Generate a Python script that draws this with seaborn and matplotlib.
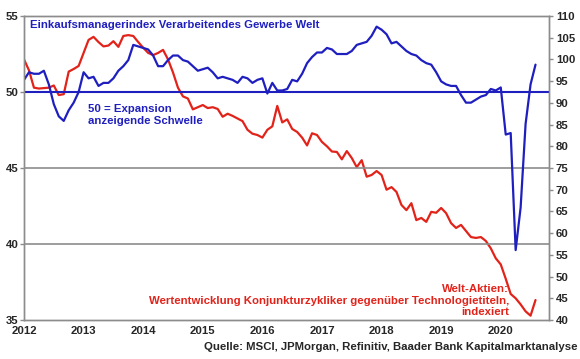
import numpy as np
import pandas as pd
import matplotlib.pyplot as plt
import seaborn as sns

# monthly, Jan 2012 - Aug 2020
pmi = [50.8, 51.3, 51.2, 51.2, 51.4, 50.5, 49.2, 48.4, 48.1, 48.8, 49.3, 50.0,
       51.3, 50.9, 51.0, 50.4, 50.6, 50.6, 50.9, 51.4, 51.7, 52.1, 53.1, 53.0,
       52.9, 52.8, 52.4, 51.7, 51.7, 52.1, 52.4, 52.4, 52.1, 52.0, 51.7, 51.4,
       51.5, 51.6, 51.3, 50.9, 51.0, 50.9, 50.8, 50.6, 51.0, 50.9, 50.6, 50.8,
       50.9, 49.9, 50.6, 50.1, 50.1, 50.2, 50.8, 50.7, 51.2, 51.9, 52.3, 52.6,
       52.6, 52.9, 52.8, 52.5, 52.5, 52.5, 52.7, 53.1, 53.2, 53.3, 53.7, 54.3,
       54.1, 53.8, 53.2, 53.3, 53.0, 52.7, 52.5, 52.4, 52.1, 51.9, 51.8, 51.3,
       50.7, 50.5, 50.4, 50.4, 49.8, 49.3, 49.3, 49.5, 49.7, 49.8, 50.2, 50.1,
       50.3, 47.2, 47.3, 39.6, 42.4, 47.9, 50.5, 51.8]

stocks = [100.0, 97.5, 93.5, 93.3, 93.4, 93.5, 94.0, 91.8, 92.0, 97.2, 97.8, 98.5,
          101.5, 104.5, 105.2, 104.0, 103.0, 103.2, 104.2, 102.9, 105.4, 105.6, 105.4, 104.0,
          102.7, 101.5, 101.0, 101.5, 102.2, 100.0, 97.0, 93.5, 91.5, 91.0, 88.5, 89.0,
          89.5, 88.8, 89.0, 88.6, 86.8, 87.5, 87.0, 86.4, 85.8, 83.8, 82.9, 82.6,
          82.0, 83.8, 84.6, 89.3, 85.5, 86.2, 84.0, 83.3, 82.0, 80.2, 83.0, 82.6,
          81.0, 80.0, 78.8, 78.7, 77.0, 78.9, 77.3, 75.2, 76.8, 73.0, 73.4, 74.3,
          73.4, 70.0, 70.6, 69.5, 66.5, 65.3, 66.9, 63.0, 63.5, 62.6, 64.9, 64.7,
          65.8, 64.6, 62.3, 61.2, 61.9, 60.5, 59.1, 58.9, 59.1, 58.2, 56.5, 54.2,
          52.8, 49.5, 46.0, 45.0, 43.6, 42.0, 41.0, 44.6]

years = [2012, 2013, 2014, 2015, 2016, 2017, 2018, 2019, 2020]
year_labels = [str(y) for y in years]
left_ticks = [35, 40, 45, 50, 55]
right_ticks = list(range(40, 111, 5))

t = 2012 + np.arange(len(pmi)) / 12
df = pd.DataFrame({"t": t, "pmi": pmi, "stocks": stocks})

blue = "#1f1fbf"
red = "#e2231a"
grey = "#8c8c8c"

sns.set_style("white")
plt.rcParams["font.family"] = ["Liberation Sans", "DejaVu Sans"]
plt.rcParams["font.weight"] = "bold"

fig = plt.figure(figsize=(5.8, 3.59), dpi=100)
ax = fig.add_axes([0.0414, 0.1086, 0.9052, 0.8468])
ax2 = ax.twinx()

for y in [40, 45]:
    ax.axhline(y, color=grey, lw=1.2, zorder=0)
ax.axhline(50, color=blue, lw=1.5, zorder=1)

sns.lineplot(data=df, x="t", y="stocks", ax=ax2, color=red, lw=1.6)
sns.lineplot(data=df, x="t", y="pmi", ax=ax, color=blue, lw=1.6)
ax.set_zorder(2)
ax.patch.set_visible(False)

ax.set_xlim(2012, 2020.81)
ax.set_ylim(35, 55)
ax2.set_ylim(40, 110)
ax.set_xticks(years)
ax.set_xticklabels(year_labels)
ax.set_yticks(left_ticks)
ax2.set_yticks(right_ticks)
ax.set_xlabel("")
ax.set_ylabel("")
ax2.set_ylabel("")

for a in (ax, ax2):
    for s in a.spines.values():
        s.set_color(grey)
        s.set_linewidth(1.0)
ax.tick_params(axis="both", length=3, color=grey, width=1, labelsize=8.2, pad=1)
ax2.tick_params(axis="y", length=3, color=grey, width=1, labelsize=8.2, pad=2)
for lab in ax.get_xticklabels() + ax.get_yticklabels() + ax2.get_yticklabels():
    lab.set_fontweight("bold")

fs = 8.2
ax.text(2012.1, 54.1, "Einkaufsmanagerindex Verarbeitendes Gewerbe Welt",
        color=blue, fontsize=fs, fontweight="bold", va="bottom")
ax.text(2013.08, 48.5, "50 = Expansion\nanzeigende Schwelle",
        color=blue, fontsize=fs, fontweight="bold", va="center")
ax.text(2020.14, 36.27, "Welt-Aktien:\nWertentwicklung Konjunkturzykliker gegenüber Technologietiteln,\nindexiert",
        color=red, fontsize=fs, fontweight="bold", ha="right", va="center",
        multialignment="right")
fig.text(0.995, 0.033, "Quelle: MSCI, JPMorgan, Refinitiv, Baader Bank Kapitalmarktanalyse",
         ha="right", va="center", fontsize=fs, fontweight="bold")

fig.savefig("out.png", dpi=100)
